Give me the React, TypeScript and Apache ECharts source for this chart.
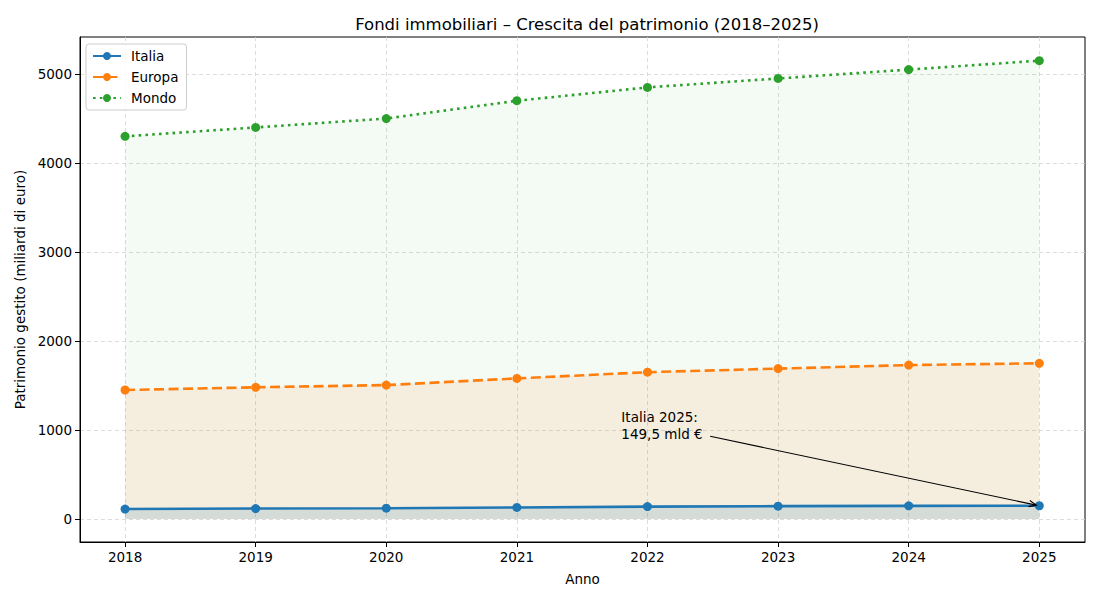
import React, { useEffect, useRef } from "react";
import * as echarts from "echarts";

const years = [2018, 2019, 2020, 2021, 2022, 2023, 2024, 2025];
const italia = [112, 118, 122, 130, 140, 145, 148, 149.5];
const europa = [1450, 1480, 1505, 1580, 1650, 1690, 1730, 1750];
const mondo = [4300, 4400, 4500, 4700, 4850, 4950, 5050, 5150];
const yTicks = [0, 1000, 2000, 3000, 4000, 5000];
const annotationText = "Italia 2025:\n149,5 mld €";
const annotationAnchor = [2021.8, 900];
const annotationArrowStart = [2022.48, 930];

const FONT = "DejaVu Sans";
const C_IT = "#1f77b4";
const C_EU = "#ff7f0e";
const C_MO = "#2ca02c";

const pairs = (vals: number[]) => years.map((y, i) => [y, vals[i]]);

export default function App() {
  const ref = useRef<HTMLDivElement>(null);
  useEffect(() => {
    if (!ref.current) return;
    const chart = echarts.init(ref.current, null, { renderer: "svg" });
    const areaSeries = (name: string, vals: number[], color: string, opacity: number) => ({
      type: "line",
      name: name + "_area",
      data: pairs(vals),
      symbol: "none",
      lineStyle: { width: 0, opacity: 0 },
      areaStyle: { color, opacity, origin: 0 },
      z: 1,
      silent: true,
    });
    const lineSeries = (name: string, vals: number[], color: string, type: any) => ({
      type: "line",
      name,
      data: pairs(vals),
      symbol: "circle",
      symbolSize: 9,
      itemStyle: { color },
      lineStyle: { color, width: 2.6, type, cap: "butt" },
      z: 3,
    });
    chart.setOption({
      animation: false,
      textStyle: { fontFamily: FONT },
      title: {
        text: "Fondi immobiliari – Crescita del patrimonio (2018–2025)",
        left: 582,
        textAlign: "center",
        top: 11,
        textStyle: { fontFamily: FONT, fontSize: 16.5, fontWeight: "normal", color: "#000" },
      },
      legend: {
        left: 86,
        top: 44,
        orient: "vertical",
        data: ["Italia", "Europa", "Mondo"],
        backgroundColor: "rgba(255,255,255,0.85)",
        borderColor: "#cccccc",
        borderWidth: 1,
        borderRadius: 3,
        padding: [5, 8, 5, 6],
        itemGap: 7,
        itemWidth: 28,
        itemHeight: 10,
        textStyle: { fontFamily: FONT, fontSize: 13.5, color: "#000", padding: [0, 0, 0, 5] },
      },
      grid: {
        left: 80,
        right: 15,
        top: 37,
        bottom: 58,
        show: true,
        borderColor: "#000",
        borderWidth: 1,
        backgroundColor: "transparent",
      },
      xAxis: {
        type: "value",
        min: 2017.655,
        max: 2025.35,
        name: "Anno",
        nameLocation: "middle",
        nameGap: 30,
        nameTextStyle: { fontFamily: FONT, fontSize: 13.5, color: "#000" },
        axisLine: { show: true, onZero: false, lineStyle: { color: "#000" } },
        axisTick: { show: true, length: 5, lineStyle: { color: "#000" }, customValues: years },
        axisLabel: {
          color: "#000",
          fontSize: 13.5,
          fontFamily: FONT,
          margin: 8,
          customValues: years,
          formatter: (v: number) => String(Math.round(v)),
        },
        splitLine: { show: true, lineStyle: { color: "#d4d4d4", type: [4, 3], width: 0.8 } },
      },
      yAxis: {
        type: "value",
        min: -258,
        max: 5416,
        name: "Patrimonio gestito (miliardi di euro)",
        nameLocation: "middle",
        nameGap: 53,
        nameTextStyle: { fontFamily: FONT, fontSize: 13.5, color: "#000" },
        axisLine: { show: true, onZero: false, lineStyle: { color: "#000" } },
        axisTick: { show: true, length: 5, lineStyle: { color: "#000" }, customValues: yTicks },
        axisLabel: {
          color: "#000",
          fontSize: 13.5,
          fontFamily: FONT,
          margin: 8,
          customValues: yTicks,
          formatter: (v: number) => String(Math.round(v)),
        },
        splitLine: { show: true, lineStyle: { color: "#d4d4d4", type: [4, 3], width: 0.8 } },
      },
      series: [
        areaSeries("Mondo", mondo, C_MO, 0.05),
        areaSeries("Europa", europa, C_EU, 0.09),
        areaSeries("Italia", italia, C_IT, 0.15),
        lineSeries("Italia", italia, C_IT, "solid"),
        lineSeries("Europa", europa, C_EU, [10, 4.5]),
        lineSeries("Mondo", mondo, C_MO, [2.6, 4.2]),
      ],
    });

    const opt = { xAxisIndex: 0, yAxisIndex: 0 } as any;
    const tp = chart.convertToPixel(opt, annotationAnchor) as number[];
    const sp = chart.convertToPixel(opt, annotationArrowStart) as number[];
    const pp = chart.convertToPixel(opt, [years[7], italia[7]]) as number[];
    const dx = pp[0] - sp[0];
    const dy = pp[1] - sp[1];
    const len = Math.sqrt(dx * dx + dy * dy);
    const ux = dx / len;
    const uy = dy / len;
    const ep = [pp[0] - ux * 3, pp[1] - uy * 3];
    const head = (ang: number) => {
      const c = Math.cos(ang);
      const s = Math.sin(ang);
      const bx = -(ux * c - uy * s) * 8;
      const by = -(ux * s + uy * c) * 8;
      return [ep[0] + bx, ep[1] + by];
    };
    chart.setOption({
      graphic: [
        {
          type: "text",
          x: tp[0],
          y: tp[1] + 4,
          z: 10,
          style: {
            text: annotationText,
            font: `13.5px "${FONT}"`,
            fill: "#000",
            textVerticalAlign: "bottom",
            verticalAlign: "bottom",
            lineHeight: 17,
          },
        },
        {
          type: "line",
          z: 10,
          shape: { x1: sp[0], y1: sp[1], x2: ep[0], y2: ep[1] },
          style: { stroke: "#000", lineWidth: 1.1 },
        },
        {
          type: "polyline",
          z: 10,
          shape: { points: [head(0.4), ep, head(-0.4)] },
          style: { stroke: "#000", lineWidth: 1.1, fill: "none" },
        },
      ],
    });
    return () => chart.dispose();
  }, []);
  return <div ref={ref} style={{ width: 1100, height: 600, position: "absolute", left: 0, top: 0 }} />;
}
